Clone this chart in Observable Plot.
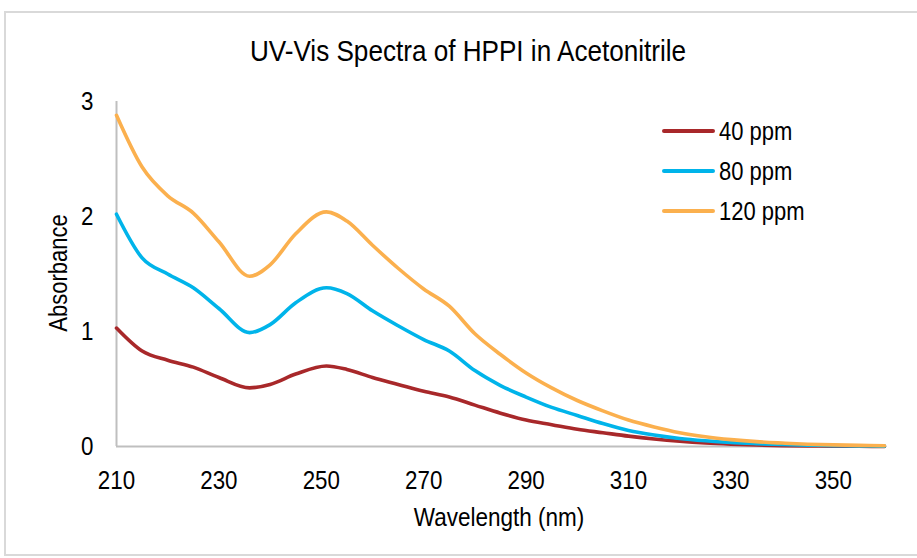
<!DOCTYPE html>
<html><head><meta charset="utf-8">
<script src="https://cdn.jsdelivr.net/npm/d3@7"></script>
<script src="https://cdn.jsdelivr.net/npm/@observablehq/plot@0.6"></script>
<style>
body{margin:0;background:#fff;}
#wrap{position:relative;width:917px;height:558px;font-family:"Liberation Sans",Arial,sans-serif;color:#000;}
#border{position:absolute;left:4px;top:11px;width:920px;height:545px;border:2px solid #d9d9d9;box-sizing:border-box;}
#title{position:absolute;left:468px;top:51px;transform:translate(-50%,-50%) scaleX(0.9);font-size:29px;white-space:nowrap;}
#legend{position:absolute;left:662px;top:111px;font-size:25px;}
#legend div{height:40px;display:flex;align-items:center;}
#legend span.sw{display:inline-block;width:53px;height:4px;margin-right:4px;border-radius:2px;}
#legend span.tx{display:inline-block;transform:scaleX(0.88);transform-origin:left center;}
#xlabel{position:absolute;left:499px;top:517px;transform:translate(-50%,-50%) scaleX(0.9);font-size:25px;white-space:nowrap;}
#ylabel{position:absolute;left:58px;top:273px;transform:translate(-50%,-50%) rotate(-90deg) scaleX(0.88);font-size:25px;white-space:nowrap;}
svg{position:absolute;left:0;top:0;}
</style></head>
<body><div id="wrap"><div id="border"></div><div id="title">UV-Vis Spectra of HPPI in Acetonitrile</div><div id="xlabel">Wavelength (nm)</div><div id="ylabel">Absorbance</div><div id="legend"></div></div>
<script>
const wavelengths = [210,215,220,225,230,236,240,245,251,255,260,265,270,275,280,285,290,295,300,305,310,315,320,325,330,335,340,345,350,355,360];
const ppm40  = [1.03,0.83,0.75,0.69,0.60,0.51,0.54,0.63,0.70,0.67,0.60,0.54,0.48,0.43,0.36,0.29,0.23,0.19,0.15,0.12,0.09,0.065,0.045,0.03,0.02,0.013,0.008,0.005,0.003,0.002,0.001];
const ppm80  = [2.02,1.64,1.50,1.38,1.20,0.99,1.06,1.25,1.38,1.33,1.18,1.05,0.93,0.83,0.66,0.53,0.43,0.34,0.27,0.20,0.14,0.10,0.07,0.05,0.035,0.025,0.017,0.012,0.008,0.005,0.003];
const ppm120 = [2.88,2.43,2.18,2.03,1.78,1.48,1.58,1.85,2.04,1.96,1.75,1.55,1.37,1.22,0.98,0.80,0.64,0.51,0.40,0.31,0.23,0.17,0.12,0.085,0.06,0.042,0.03,0.02,0.014,0.01,0.007];
const seriesNames = ["40 ppm","80 ppm","120 ppm"];
const seriesColors = ["#A8282A","#00B4EA","#FBB04E"];
const xTicks = [210,230,250,270,290,310,330,350];
const yTicks = [0,1,2,3];

const cols = [ppm40, ppm80, ppm120];
const data = [];
seriesNames.forEach((s,i)=>wavelengths.forEach((w,j)=>data.push({series:s, wl:w, abs:cols[i][j]})));

const plot = Plot.plot({
  width:917, height:558,
  marginLeft:116, marginRight:33, marginTop:101, marginBottom:112,
  style:{fontFamily:'"Liberation Sans",Arial,sans-serif', fontSize:"26px", color:"#000", background:"transparent"},
  x:{domain:[210,360], ticks:xTicks, tickFormat:d3.format("d"), tickSize:0, tickPadding:24, label:null},
  y:{domain:[0,3], ticks:yTicks, tickFormat:d3.format("d"), tickSize:0, tickPadding:23, label:null},
  color:{domain:seriesNames, range:seriesColors},
  marks:[
    Plot.ruleY([0],{stroke:"#bfbfbf", strokeWidth:2}),
    Plot.ruleX([210],{stroke:"#bfbfbf", strokeWidth:2}),
    Plot.line(data,{x:"wl", y:"abs", z:"series", stroke:"series", strokeWidth:3.6, curve:"monotone-x"})
  ]
});
plot.querySelectorAll("g[aria-label$='tick label'] text").forEach(t=>{
  t.setAttribute("fill","#000");
  const tr = t.getAttribute("transform") || "";
  t.setAttribute("transform", tr + " scale(0.86,1)");
});
document.getElementById("wrap").appendChild(plot);

const lg = document.getElementById("legend");
seriesNames.forEach((s,i)=>{
  const d=document.createElement("div");
  d.innerHTML=`<span class="sw" style="background:${seriesColors[i]}"></span><span class="tx">${s}</span>`;
  lg.appendChild(d);
});
</script></body></html>
